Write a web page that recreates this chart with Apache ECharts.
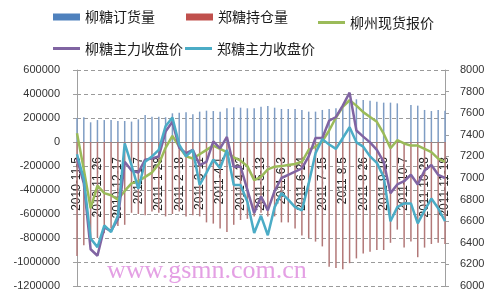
<!DOCTYPE html>
<html>
<head>
<meta charset="utf-8">
<script src="https://cdn.jsdelivr.net/npm/echarts@6/dist/echarts.min.js"></script>
<style>
html,body{margin:0;padding:0;background:#fff;}
#c{width:500px;height:296px;}
</style>
</head>
<body>
<div id="c"></div>
<script>
const dates = ['2010-11-5','2010-11-12','2010-11-19','2010-11-26','2010-12-3','2010-12-10','2010-12-17','2010-12-24','2010-12-31',
'2011-1-7','2011-1-14','2011-1-21','2011-1-28','2011-2-4','2011-2-11','2011-2-18','2011-2-25','2011-3-4','2011-3-11','2011-3-18','2011-3-25',
'2011-4-1','2011-4-8','2011-4-15','2011-4-22','2011-4-29','2011-5-6','2011-5-13','2011-5-20','2011-5-27','2011-6-3','2011-6-10','2011-6-17','2011-6-24',
'2011-7-1','2011-7-8','2011-7-15','2011-7-22','2011-7-29','2011-8-5','2011-8-12','2011-8-19','2011-8-26','2011-9-2','2011-9-9','2011-9-16','2011-9-23','2011-9-30',
'2011-10-7','2011-10-14','2011-10-21','2011-10-28','2011-11-4','2011-11-11','2011-11-18'];

const liuOrders = [200000,206000,164000,183000,183000,183000,175000,175000,170000,189000,225000,211000,211000,206000,239000,244000,248000,231000,253000,261000,258000,
253000,281000,289000,286000,281000,281000,294000,300000,286000,275000,275000,275000,267000,253000,253000,267000,275000,281000,289000,340000,356000,350000,344000,336000,328000,328000,322000,
0,308000,303000,267000,258000,267000,260000];

const zhengOpenInt = [-950000,-860000,-830000,-800000,-760000,-720000,-700000,-690000,-590000,-600000,-610000,-580000,-590000,-620000,-600000,-580000,-620000,-610000,-620000,-670000,-680000,
-720000,-750000,-690000,-650000,-640000,-620000,-590000,-620000,-620000,-670000,-670000,-720000,-780000,-800000,-830000,-870000,-1040000,-1050000,-1060000,-1010000,-970000,-930000,-915000,-900000,-900000,-840000,-730000,
-880000,-830000,-960000,-880000,-850000,-840000,-850000];

const liuzhouSpot = [7414,7080,6720,6930,6860,6840,6800,6880,6950,6970,7010,7050,7130,7280,7390,7290,7200,7180,7220,7260,7300,
7270,7240,7190,7160,7110,6980,7010,7080,7105,7110,7120,7130,7150,7260,7290,7340,7440,7560,7660,7720,7670,7610,7565,7520,7410,7275,7350,
7320,7300,7300,7270,7240,7180,7150];

const liuClose = [7180,6950,6340,6280,6540,6510,6620,7150,7070,7050,7170,7180,7200,7430,7520,7280,7230,7260,7120,7150,7340,
7275,7380,7105,7105,6890,6675,6830,6700,6880,7000,7030,7060,7090,7200,7370,7370,7530,7565,7670,7790,7440,7383,7330,7260,7150,6860,6940,
6970,7030,6940,7070,7120,7030,7000];

const zhengClose = [7220,6990,6440,6360,6560,6500,6650,7320,7120,6900,7150,7200,7260,7480,7560,7310,7200,7260,6935,7050,7170,
7090,7260,6935,6935,6780,6490,6650,6470,6730,6860,6800,6730,6700,6950,7230,7360,7310,7270,7370,7470,7330,7290,7200,7140,7010,6600,6730,
6765,6765,6580,6700,6810,6720,6600];

const leftTicks = {min:-1200000, max:600000, interval:200000};
const rightTicks = {min:6000, max:8000, interval:200};

const names = ['柳糖订货量','郑糖持仓量','柳州现货报价','柳糖主力收盘价','郑糖主力收盘价'];
const colors = ['#4F81BD','#C0504D','#9BBB59','#8064A2','#4BACC6'];
const barColors = ['#7f9dc4','#b27878'];

const GRID = {left:77, right:55, top:70, bottom:10};
const PLOT_H = 296 - GRID.top - GRID.bottom;
// pixel distance from the bottom of the plot up to the zero value of the left axis
const zeroFromBottom = PLOT_H * (0 - leftTicks.min) / (leftTicks.max - leftTicks.min);

const chart = echarts.init(document.getElementById('c'), null, {renderer:'canvas'});
const legendText = {fontSize:14, color:'#1a1a1a', fontFamily:'"Noto Sans CJK SC", sans-serif'};
function lg(idx, left, top, isBar){
  return {data:[names[idx]], left:left, top:top, itemWidth:27, itemHeight: isBar?7:3, itemGap:0,
    textStyle:legendText, padding:0, selectedMode:false, icon:'rect',
    itemStyle:{color:colors[idx], opacity:1, borderWidth:0}};
}
const axisLabelFont = {fontSize:11, color:'#333', fontFamily:'"Liberation Sans", Arial, sans-serif', formatter:v=>String(v)};

chart.setOption({
  animation:false,
  backgroundColor:'#fff',
  legend:[lg(0,53,10,true), lg(1,186,10,true), lg(2,318,15.5,false), lg(3,53,41.5,false), lg(4,185,41.5,false)],
  grid:Object.assign({containLabel:false, outerBoundsMode:'none'}, GRID),
  xAxis:{type:'category', data:dates, boundaryGap:false, position:'bottom',
    offset:-zeroFromBottom,
    axisLine:{onZero:false, lineStyle:{color:'#8c8c8c', width:1}},
    axisTick:{show:false},
    axisLabel:{interval:2, rotate:90, margin:15, fontSize:12, color:'#222', fontFamily:'"Liberation Sans", Arial, sans-serif'},
    splitLine:{show:false}},
  yAxis:[
    {type:'value', min:leftTicks.min, max:leftTicks.max, interval:leftTicks.interval,
     axisLine:{show:true, lineStyle:{color:'#a0a0a0'}},
     axisTick:{show:true, length:4, lineStyle:{color:'#a0a0a0'}},
     axisLabel:Object.assign({margin:17}, axisLabelFont),
     splitLine:{show:true, lineStyle:{color:'#9a9a9a', type:[4,3], width:1}}},
    {type:'value', min:rightTicks.min, max:rightTicks.max, interval:rightTicks.interval, position:'right',
     axisLine:{show:true, lineStyle:{color:'#a0a0a0'}},
     axisTick:{show:true, length:4, lineStyle:{color:'#a0a0a0'}},
     axisLabel:Object.assign({margin:15}, axisLabelFont),
     splitLine:{show:false}}
  ],
  graphic:[{type:'text', left:107, top:258, z:0, silent:true,
    style:{text:'www.gsmn.com.cn', font:'26px "Liberation Serif", "Times New Roman", serif', fill:'#e4a0e4'}}],
  series:[
    {name:names[0], type:'bar', yAxisIndex:0, data:liuOrders, barWidth:1.5, barGap:'-100%', itemStyle:{color:barColors[0]}},
    {name:names[1], type:'bar', yAxisIndex:0, data:zhengOpenInt, barWidth:1.5, itemStyle:{color:barColors[1]}},
    {name:names[2], type:'line', yAxisIndex:1, data:liuzhouSpot, symbol:'none', showSymbol:false, lineStyle:{color:colors[2], width:2.5}, itemStyle:{color:colors[2]}},
    {name:names[3], type:'line', yAxisIndex:1, data:liuClose, symbol:'none', showSymbol:false, lineStyle:{color:colors[3], width:2.5}, itemStyle:{color:colors[3]}},
    {name:names[4], type:'line', yAxisIndex:1, data:zhengClose, symbol:'none', showSymbol:false, lineStyle:{color:colors[4], width:2.5}, itemStyle:{color:colors[4]}}
  ]
});
</script>
</body>
</html>
